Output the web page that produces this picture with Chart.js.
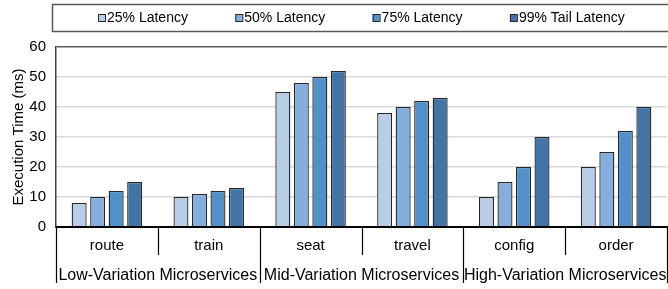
<!DOCTYPE html>
<html>
<head>
<meta charset="utf-8">
<script src="https://cdn.jsdelivr.net/npm/chart.js@4.4.1/dist/chart.umd.min.js"></script>
<style>
  html, body { margin: 0; padding: 0; background: #fff; }
  canvas { display: block; }
</style>
</head>
<body>
<canvas id="chart" width="668" height="289"></canvas>
<script>
const categories = ["route", "train", "seat", "travel", "config", "order"];
const groupLabels = ["Low-Variation Microservices", "Mid-Variation Microservices", "High-Variation Microservices"];
const groupSizes = [2, 2, 2];

const seriesNames = ["25% Latency", "50% Latency", "75% Latency", "99% Tail Latency"];
const p25 = [8, 10, 45, 38, 10, 20];
const p50 = [10, 11, 48, 40, 15, 25];
const p75 = [12, 12, 50, 42, 20, 32];
const p99 = [15, 13, 52, 43, 30, 40];
const yTicks = [0, 10, 20, 30, 40, 50, 60];

const colors = ["#b9cde6", "#85aedc", "#5290c8", "#4374a6"];
const FONT = "'Liberation Sans', Arial, sans-serif";

// legend in a box and the two-level category labels
const decorations = {
  id: "decorations",
  afterDraw(chart) {
    const ctx = chart.ctx;
    const xs = chart.scales.x;
    const area = chart.chartArea;
    ctx.save();

    // legend box
    ctx.strokeStyle = "#595959";
    ctx.lineWidth = 1.5;
    ctx.strokeRect(52.5, 4.5, 620, 27);
    ctx.font = "14px " + FONT;
    ctx.textBaseline = "middle";
    ctx.textAlign = "left";
    chart.data.datasets.forEach((ds, i) => {
      const x = 98 + i * 137.3;
      ctx.fillStyle = ds.backgroundColor;
      ctx.fillRect(x, 14.5, 7, 7);
      ctx.strokeStyle = "#262626";
      ctx.lineWidth = 1;
      ctx.strokeRect(x + 0.5, 14.5, 7, 7);
      ctx.fillStyle = "#000";
      ctx.fillText(ds.label, x + 9, 18.5);
    });

    // separators under the x axis
    ctx.strokeStyle = "#000";
    ctx.lineWidth = 1.2;
    const bounds = [0];
    groupSizes.forEach(n => bounds.push(bounds[bounds.length - 1] + n));
    for (let i = 0; i <= categories.length; i++) {
      const x = Math.round(xs.getPixelForValue(i - 0.5)) + 0.5;
      const long = bounds.includes(i);
      ctx.beginPath();
      ctx.moveTo(x, area.bottom);
      ctx.lineTo(x, long ? 283 : 255);
      ctx.stroke();
    }

    // group labels
    ctx.font = "16px " + FONT;
    ctx.textAlign = "center";
    ctx.textBaseline = "alphabetic";
    for (let g = 0; g < groupLabels.length; g++) {
      const x0 = xs.getPixelForValue(bounds[g] - 0.5);
      const x1 = xs.getPixelForValue(bounds[g + 1] - 0.5);
      ctx.fillText(groupLabels[g], (x0 + x1) / 2, 280);
    }
    ctx.restore();
  }
};

const series = [p25, p50, p75, p99];

new Chart(document.getElementById("chart"), {
  type: "bar",
  data: {
    labels: categories,
    datasets: series.map((values, i) => ({
      label: seriesNames[i],
      data: values,
      backgroundColor: colors[i],
      borderColor: "#262626",
      borderWidth: 1.3,
      borderSkipped: "bottom",
      categoryPercentage: 0.727,
      barPercentage: 0.81
    }))
  },
  options: {
    responsive: false,
    devicePixelRatio: 1,
    animation: false,
    layout: { padding: { top: 47, right: 1, bottom: 0, left: 0 } },
    plugins: {
      legend: { display: false },
      tooltip: { enabled: false }
    },
    scales: {
      x: {
        offset: true,
        grid: { display: false, drawTicks: false },
        border: { display: true, color: "#000", width: 2 },
        ticks: {
          color: "#000",
          padding: 10,
          font: { family: FONT, size: 15 }
        },
        afterFit(scale) { scale.height = 62; }
      },
      y: {
        min: 0,
        max: 60,
        afterBuildTicks(scale) { scale.ticks = yTicks.map(v => ({ value: v })); },
        grid: {
          drawTicks: false,
          color: c => c.tick.value === 60 ? "#595959" : (c.tick.value === 0 ? "#000" : "#d9d9d9"),
          lineWidth: c => c.tick.value === 60 ? 1.5 : (c.tick.value === 0 ? 2 : 1.5)
        },
        border: { display: true, color: "#404040", width: 1.5 },
        ticks: {
          color: "#000",
          padding: 10,
          font: { family: FONT, size: 15 }
        },
        title: {
          display: true,
          text: "Execution Time (ms)",
          color: "#000",
          padding: { top: 10, bottom: 0 },
          font: { family: FONT, size: 15 }
        },
        afterFit(scale) { scale.width = 56; }
      }
    }
  },
  plugins: [decorations]
});
</script>
</body>
</html>
